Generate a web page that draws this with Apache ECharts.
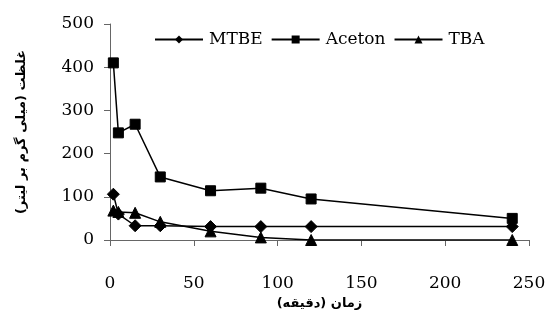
<!DOCTYPE html>
<html><head><meta charset="utf-8">
<script src="https://cdn.jsdelivr.net/npm/echarts@6/dist/echarts.min.js"></script>
<style>html,body{margin:0;padding:0;background:#fff}#c{width:558px;height:327px}</style>
</head><body><div id="c"></div>
<script>
const seriesNames = ['MTBE', 'Aceton', 'TBA'];
const timeMTBE = [2, 5, 15, 30, 60, 90, 120, 240];
const valMTBE = [106, 60, 33, 33, 31, 31, 31, 31];
const timeAceton = [2, 5, 15, 30, 60, 90, 120, 240];
const valAceton = [410, 248, 268, 146, 114, 120, 95, 50];
const timeTBA = [2, 5, 15, 30, 60, 90, 120, 240];
const valTBA = [68, 65, 63, 42, 20, 6, 0, 0];
const xTitle = 'زمان (دقیقه)';
const yTitle = 'غلظت (میلی گرم بر لیتر)';
const xTicks = [0, 50, 100, 150, 200, 250];
const yTicks = [0, 100, 200, 300, 400, 500];

const pair = (xs, ys) => xs.map((x, i) => [x, ys[i]]);
const symbols = ['diamond', 'rect', 'triangle'];
const sizes = [12, 10, 11];
const data = [pair(timeMTBE, valMTBE), pair(timeAceton, valAceton), pair(timeTBA, valTBA)];

const chart = echarts.init(document.getElementById('c'));
chart.setOption({
  animation: false,
  grid: {left: 110, right: 29, top: 24, bottom: 87},
  legend: {
    top: 26, left: 149, itemGap: 8, itemWidth: 48, itemHeight: 10,
    textStyle: {fontFamily: 'DejaVu Serif', fontSize: 17, color: '#000', padding: [0, 0, 0, 1]},
    data: seriesNames
  },
  xAxis: {
    type: 'value', min: xTicks[0], max: xTicks[xTicks.length - 1], interval: 50,
    name: xTitle, nameLocation: 'middle', nameGap: 49,
    nameTextStyle: {fontFamily: 'DejaVu Sans', fontWeight: 'bold', fontSize: 13, color: '#000'},
    axisLine: {lineStyle: {color: '#666', width: 1}},
    axisTick: {show: true, length: 6, lineStyle: {color: '#666'}},
    axisLabel: {margin: 35, fontFamily: 'DejaVu Serif', fontSize: 17, color: '#000'},
    splitLine: {show: false}
  },
  yAxis: {
    type: 'value', min: yTicks[0], max: yTicks[yTicks.length - 1], interval: 100,
    name: yTitle, nameLocation: 'middle', nameGap: 82, nameRotate: 90,
    nameTextStyle: {fontFamily: 'DejaVu Sans', fontWeight: 'bold', fontSize: 13, color: '#000'},
    axisLine: {show: true, lineStyle: {color: '#666', width: 1}},
    axisTick: {show: true, length: 6, lineStyle: {color: '#666'}},
    axisLabel: {margin: 16, fontFamily: 'DejaVu Serif', fontSize: 17, color: '#000'},
    splitLine: {show: false}
  },
  series: seriesNames.map((n, i) => ({
    name: n, type: 'line', data: data[i],
    symbol: symbols[i], symbolSize: sizes[i], showAllSymbol: true,
    lineStyle: {color: '#000', width: 1.5},
    itemStyle: {color: '#000', borderColor: '#000'}
  }))
});
</script></body></html>
